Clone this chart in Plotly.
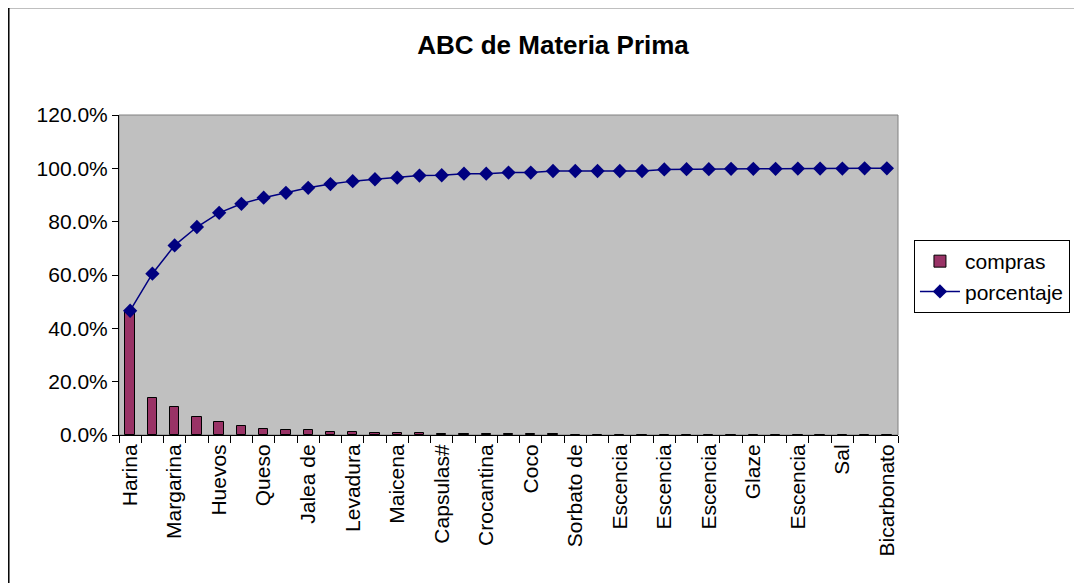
import plotly.graph_objects as go

# Item rank (position on the Pareto chart)
item_rank = list(range(1, 36))

# Labels shown on the axis (every other item)
label_rank = list(range(1, 36, 2))
tick_labels = ["Harina", "Margarina", "Huevos", "Queso", "Jalea de", "Levadura",
               "Maicena", "Capsulas#", "Crocantina", "Coco", "Sorbato de",
               "Escencia", "Escencia", "Escencia", "Glaze", "Escencia", "Sal",
               "Bicarbonato"]

# compras: share of total purchases (fraction)
compras = [0.466, 0.139, 0.106, 0.069, 0.050, 0.033, 0.024, 0.018, 0.018, 0.012,
           0.011, 0.006, 0.006, 0.006, 0.005, 0.005, 0.004, 0.002, 0.002, 0.002,
           0.001, 0.001, 0.001, 0.001, 0.001, 0.001, 0.001, 0.001, 0.001, 0.001,
           0.0005, 0.0005, 0.0005, 0.0005, 0.0005]

# porcentaje: cumulative share
porcentaje = [0.466, 0.605, 0.711, 0.780, 0.833, 0.867, 0.890, 0.908, 0.927, 0.941,
              0.952, 0.959, 0.965, 0.973, 0.974, 0.980, 0.980, 0.984, 0.984, 0.990,
              0.990, 0.990, 0.990, 0.990, 0.996, 0.997, 0.997, 0.998, 0.998, 0.998,
              0.999, 0.999, 0.999, 1.000, 1.000]

OFF = 8  # default page body margin
W, H = 1082 - OFF, 583 - OFF
ML, MR, MT, MB = 119 - OFF, 182, 115 - OFF, 148
PW, PH = W - ML - MR, H - MT - MB

def px_to_paper_x(px):
    return (px - OFF - ML) / PW

def px_to_paper_y(py):
    return (H - MB - (py - OFF)) / PH

FONT = "Liberation Sans, Arial, sans-serif"

fig = go.Figure()
fig.add_trace(go.Bar(
    x=item_rank, y=compras, name="compras", width=0.42,
    marker=dict(color="#993366", line=dict(color="black", width=1)),
))
fig.add_trace(go.Scatter(
    x=item_rank, y=porcentaje, name="porcentaje", mode="lines+markers",
    line=dict(color="#000080", width=1.5),
    marker=dict(symbol="diamond", size=11, color="#000080"),
))

fig.update_layout(
    width=W, height=H,
    margin=dict(l=ML, r=MR, t=MT, b=MB),
    paper_bgcolor="white",
    plot_bgcolor="#C0C0C0",
    font=dict(family=FONT, size=21, color="black"),
    title=dict(text="<b>ABC de Materia Prima</b>", x=(553 - OFF) / W, xref="container",
               xanchor="center", y=1 - (45 - OFF) / H, yref="container", yanchor="middle",
               font=dict(family=FONT, size=26, color="black")),
    showlegend=True,
    legend=dict(x=px_to_paper_x(916), y=px_to_paper_y(240), xanchor="left",
                yanchor="top", bgcolor="white", bordercolor="black", borderwidth=1,
                font=dict(family=FONT, size=21), itemwidth=40),
    bargap=0,
)

fig.update_xaxes(
    range=[0.5, 35.5], tickmode="array", tickvals=label_rank, ticktext=tick_labels,
    tickangle=-90, ticks="", showgrid=False, zeroline=False,
    showline=True, linecolor="black", linewidth=1,
    tickfont=dict(family=FONT, size=21),
    minor=dict(tick0=0.5, dtick=1, ticks="outside", ticklen=7, tickcolor="black",
               tickwidth=1, showgrid=False),
)
fig.update_yaxes(
    range=[0, 1.2], tickformat=".1%", dtick=0.2, tick0=0,
    ticks="outside", ticklen=6, tickcolor="black", showgrid=False, zeroline=False,
    showline=True, linecolor="black", linewidth=1,
    tickfont=dict(family=FONT, size=21),
)

# plot-area border (gray) and outer chart border
fig.add_shape(type="rect", xref="paper", yref="paper", x0=0, y0=0, x1=1, y1=1,
              line=dict(color="#808080", width=1), layer="below")
fig.add_shape(type="line", xref="paper", yref="paper",
              x0=px_to_paper_x(8), x1=px_to_paper_x(1090),
              y0=px_to_paper_y(7.5), y1=px_to_paper_y(7.5),
              line=dict(color="black", width=1.5))
fig.add_shape(type="line", xref="paper", yref="paper",
              x0=px_to_paper_x(8.5), x1=px_to_paper_x(8.5),
              y0=px_to_paper_y(7), y1=px_to_paper_y(600),
              line=dict(color="black", width=1.5))

fig.write_html("out.html")
